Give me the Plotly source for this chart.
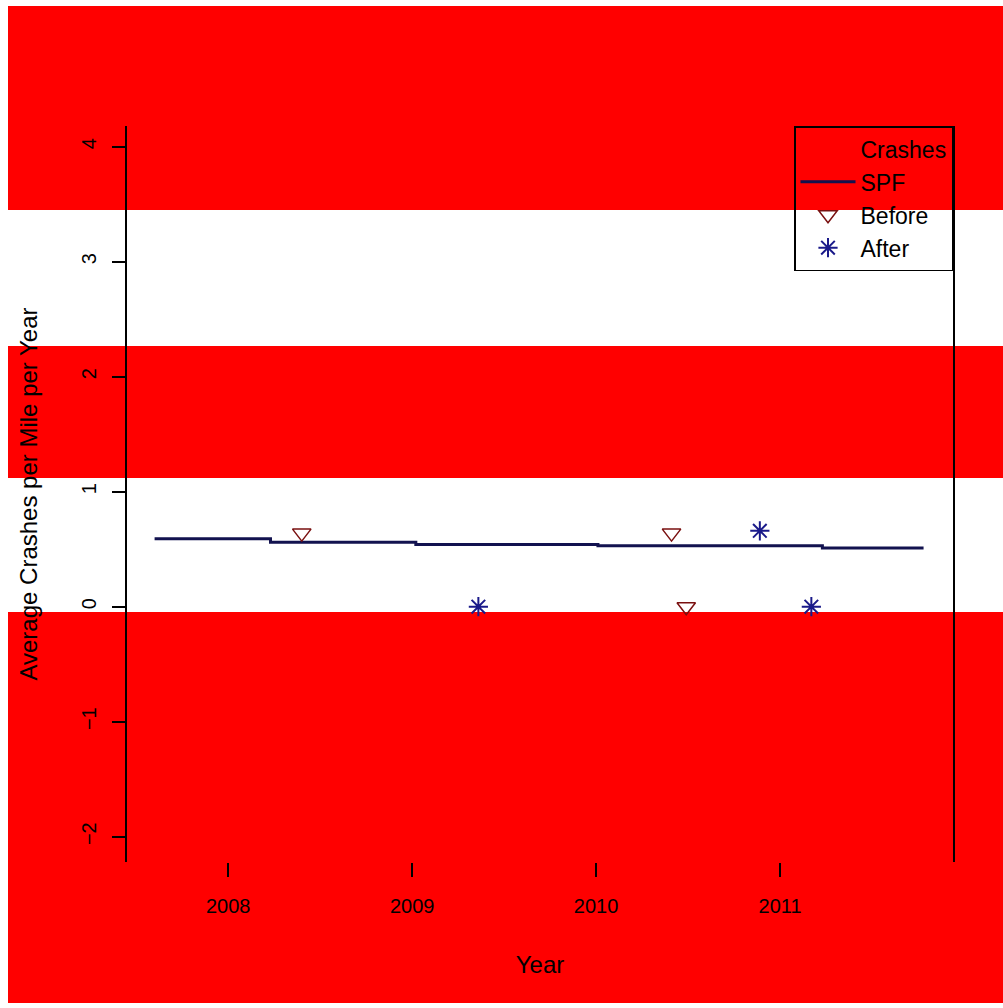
import plotly.graph_objects as go

# ---- data ----
tick_years = [2008, 2009, 2010, 2011]
tick_labels = ["2008", "2009", "2010", "2011"]

spf_x = [2007.60, 2008.23, 2009.02, 2010.01, 2011.23, 2011.78]
spf_y = [0.59, 0.56, 0.54, 0.53, 0.51, 0.51]

before_x = [2008.40, 2010.41, 2010.49]
before_y = [0.64, 0.64, 0.0]

after_x = [2009.36, 2010.89, 2011.17]
after_y = [0.0, 0.66, 0.0]

y_ticks = [-2, -1, 0, 1, 2, 3, 4]

# ---- figure ----
fig = go.Figure()

fig.add_trace(go.Scatter(
    x=[None], y=[None], mode="markers", name="Crashes",
    marker=dict(color="rgba(0,0,0,0)", size=10),
))
fig.add_trace(go.Scatter(
    x=spf_x, y=spf_y, mode="lines", name="SPF",
    line=dict(color="#12124f", width=3, shape="hv"),
))
fig.add_trace(go.Scatter(
    x=before_x, y=before_y, mode="markers", name="Before",
    marker=dict(symbol="triangle-down-open", size=16, color="#7a1010",
                line=dict(width=1.5, color="#7a1010")),
))
fig.add_trace(go.Scatter(
    x=after_x, y=after_y, mode="markers", name="After",
    marker=dict(symbol="asterisk-open", size=16, color="#1a1a8a",
                line=dict(width=2, color="#1a1a8a")),
))

# red bands of the reference image
bands = [(6, 210), (346, 478), (612, 1003)]
H = 1008
for y0, y1 in bands:
    fig.add_shape(type="rect", xref="paper", yref="paper",
                  x0=(8 - 127) / (953 - 127), x1=(1003 - 127) / (953 - 127),
                  y0=(H - 146 - y1) / (862 - 126), y1=(H - 146 - y0) / (862 - 126),
                  fillcolor="#ff0000", line=dict(width=0), layer="below")

fig.update_layout(
    width=1003, height=1008,
    margin=dict(l=127, r=50, t=126, b=146),
    paper_bgcolor="white",
    plot_bgcolor="rgba(0,0,0,0)",
    font=dict(family="Liberation Sans, Arial, sans-serif", size=20, color="black"),
    showlegend=True,
    legend=dict(
        x=1, y=1, xanchor="right", yanchor="top",
        bgcolor="rgba(0,0,0,0)", bordercolor="black", borderwidth=1.5,
        font=dict(size=23), itemwidth=55,
    ),
    xaxis=dict(
        range=[2007.45, 2011.94],
        tickmode="array", tickvals=tick_years, ticktext=tick_labels,
        ticks="outside", ticklen=14, tickcolor="black", tickwidth=1.5,
        ticklabelstandoff=12,
        showline=False, showgrid=False, zeroline=False,
        title=dict(text="Year", standoff=40),
        tickfont=dict(size=20),
    ),
    yaxis=dict(
        range=[-2.22, 4.18],
        tickmode="array", tickvals=y_ticks,
        ticks="outside", ticklen=13, tickcolor="black", tickwidth=1.5,
        tickangle=-90, ticklabelstandoff=8,
        showline=True, linecolor="black", linewidth=2, mirror=True,
        showgrid=False, zeroline=False,
        title=dict(text="Average Crashes per Mile per Year", standoff=34),
        tickfont=dict(size=20),
    ),
)

fig.write_html("out.html")
